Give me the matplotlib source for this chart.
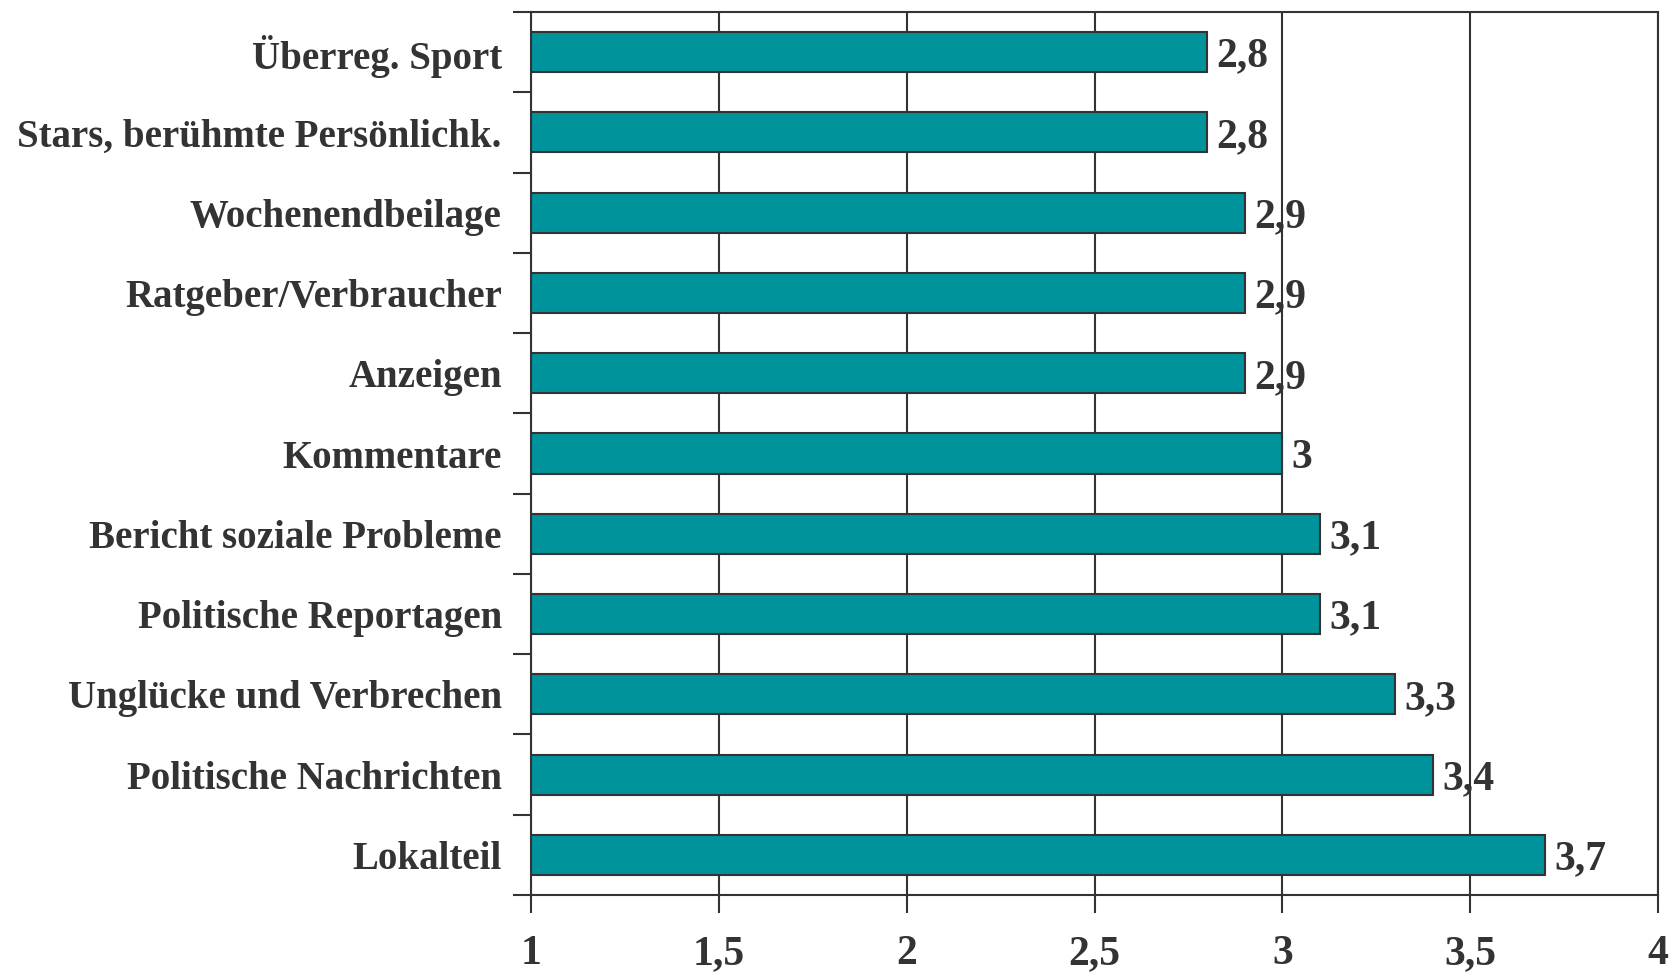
import matplotlib
matplotlib.use("Agg")
import matplotlib.pyplot as plt

categories = ["Überreg. Sport", "Stars, berühmte Persönlichk.", "Wochenendbeilage",
              "Ratgeber/Verbraucher", "Anzeigen", "Kommentare", "Bericht soziale Probleme",
              "Politische Reportagen", "Unglücke und Verbrechen", "Politische Nachrichten",
              "Lokalteil"]
values = [2.8, 2.8, 2.9, 2.9, 2.9, 3.0, 3.1, 3.1, 3.3, 3.4, 3.7]
value_labels = ["2,8", "2,8", "2,9", "2,9", "2,9", "3", "3,1", "3,1", "3,3", "3,4", "3,7"]
xticks = [1, 1.5, 2, 2.5, 3, 3.5, 4]
xtick_labels = ["1", "1,5", "2", "2,5", "3", "3,5", "4"]

TXT = "#333333"
FS = 28
FS_NUM = 30
plt.rcParams['font.family'] = ['Liberation Serif', 'DejaVu Serif']
plt.rcParams['font.weight'] = 'bold'

fig = plt.figure(figsize=(16.7, 9.76), dpi=100)
ax = fig.add_axes([531/1670, 1-895/976, (1658-531)/1670, (895-12)/976])

n = len(categories)
ypos = list(range(n))
ax.barh(ypos, [v - 1 for v in values], left=1, height=0.5, color="#00939C",
        edgecolor="#333333", linewidth=1.5, zorder=3)
ax.set_ylim(n - 0.5, -0.5)
ax.set_xlim(1, 4)

for y, v, lab in zip(ypos, values, value_labels):
    ax.text(v + 0.025, y, lab, va="center_baseline", ha="left", fontsize=FS_NUM,
            fontweight="bold", color=TXT, zorder=4)

ax.set_xticks(xticks)
ax.set_xticklabels(xtick_labels, fontsize=FS_NUM, fontweight="bold", color=TXT)
ax.set_yticks(ypos)
ax.set_yticklabels(categories, fontsize=FS, fontweight="bold", color=TXT,
                   va="center_baseline")
ax.set_yticks([i - 0.5 for i in range(n + 1)], minor=True)
ax.tick_params(axis="y", which="major", length=0, pad=21)
ax.tick_params(axis="y", which="minor", length=13, width=1.5, color="#333333")
ax.tick_params(axis="x", which="major", length=13, width=1.5, color="#333333", pad=16)

ax.xaxis.grid(True, color="#333333", linewidth=1.5, zorder=0)
ax.set_axisbelow(True)
for s in ax.spines.values():
    s.set_color("#333333")
    s.set_linewidth(1.5)

fig.savefig("out.png", dpi=100)
